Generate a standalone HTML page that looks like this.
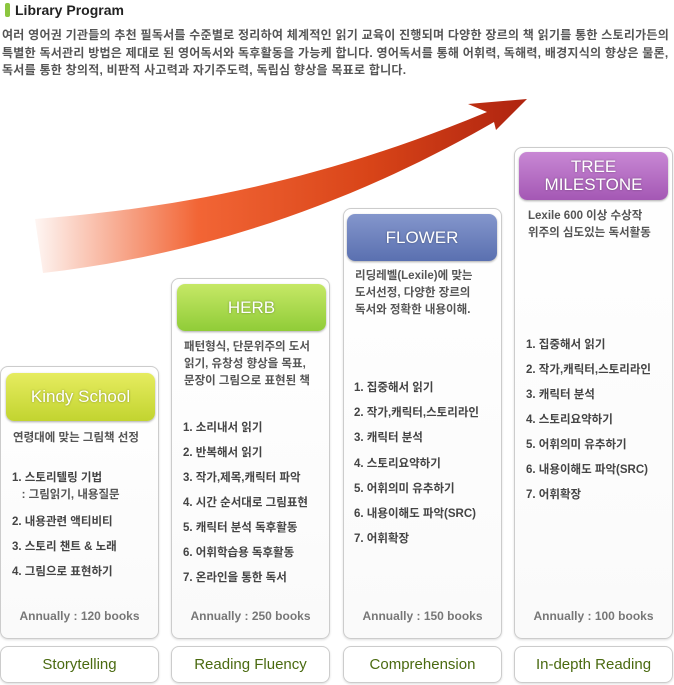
<!DOCTYPE html>
<html><head><meta charset="utf-8"><style>
body{margin:0;width:674px;height:685px;background:#fff;position:relative;overflow:hidden;font-family:"Liberation Sans","Noto Sans CJK KR",sans-serif;}
.abs{position:absolute}
.title{left:5px;top:2px;font-size:14px;font-weight:bold;color:#222;}
.title:before{content:"";display:inline-block;width:5px;height:14px;background:#8cc63f;border-radius:2px;margin-right:5px;vertical-align:-2px}
.intro{left:2px;top:27px;font-size:12px;line-height:17.5px;color:#555;font-weight:bold;white-space:nowrap;letter-spacing:0.25px}
.card{position:absolute;border:1px solid #ccc;border-radius:8px;background:linear-gradient(#fff,#fafafa);box-shadow:0 1px 2px #ddd;}
.btn{position:absolute;border-radius:8px;color:#fff;text-align:center;font-size:17px;box-shadow:0 1px 2px #aaa;text-shadow:0 0 2px rgba(0,0,0,.35)}
.t{position:absolute;font-size:11.5px;font-weight:bold;color:#444;white-space:nowrap}
.d{color:#555}
.ann{position:absolute;font-size:12px;font-weight:bold;color:#777;text-align:center;width:159px}
.lbl{position:absolute;top:646px;height:35px;width:157px;border:1px solid #ccc;border-radius:8px;text-align:center;line-height:35px;font-size:15px;color:#4a6a10;box-shadow:0 1px 2px #ddd}
</style></head><body>
<div class="abs title">Library Program</div>
<div class="abs intro">여러 영어권 기관들의 추천 필독서를 수준별로 정리하여 체계적인 읽기 교육이 진행되며 다양한 장르의 책 읽기를 통한 스토리가든의<br>특별한 독서관리 방법은 제대로 된 영어독서와 독후활동을 가능케 합니다. 영어독서를 통해 어휘력, 독해력, 배경지식의 향상은 물론,<br>독서를 통한 창의적, 비판적 사고력과 자기주도력, 독립심 향상을 목표로 합니다.</div>
<svg class="abs" style="left:0;top:0" width="674" height="300">
<defs><linearGradient id="g" x1="25" y1="0" x2="520" y2="0" gradientUnits="userSpaceOnUse">
<stop offset="0" stop-color="#f06030" stop-opacity="0"/><stop offset="0.35" stop-color="#f26535"/><stop offset="0.7" stop-color="#d84418"/><stop offset="1" stop-color="#b02510"/></linearGradient></defs>
<path d="M35,219 C150,210 300,190 487,112 L468,104 L527,99 L496,130 L494,122 C350,205 200,255 43,273 Z" fill="url(#g)"/>
</svg>

<div class="card" style="left:0;top:366px;width:157px;height:271px"></div>
<div class="card" style="left:171px;top:278px;width:157px;height:359px"></div>
<div class="card" style="left:343px;top:208px;width:157px;height:429px"></div>
<div class="card" style="left:514px;top:147px;width:157px;height:490px"></div>

<div class="btn" style="left:6px;top:373px;width:149px;height:48px;line-height:48px;background:linear-gradient(#e6ec60,#c2d430);">Kindy School</div>
<div class="btn" style="left:177px;top:284px;width:149px;height:47px;line-height:47px;background:linear-gradient(#c6e866,#90cc38);">HERB</div>
<div class="btn" style="left:347px;top:214px;width:150px;height:47px;line-height:47px;background:linear-gradient(#8496cc,#5a70b0);">FLOWER</div>
<div class="btn" style="left:519px;top:152px;width:149px;height:48px;line-height:18px;padding-top:6px;box-sizing:border-box;background:linear-gradient(#c888d4,#a458b4);">TREE<br>MILESTONE</div>

<div class="t d" style="left:13px;top:429px">연령대에 맞는 그림책 선정</div>
<div class="t" style="left:12px;top:470px;line-height:17px">1. 스토리텔링 기법<br><span class="d">&nbsp;&nbsp;&nbsp;: 그림읽기, 내용질문</span></div>
<div class="t" style="left:12px;top:513px">2. 내용관련 액티비티</div>
<div class="t" style="left:12px;top:538px">3. 스토리 챈트 &amp; 노래</div>
<div class="t" style="left:12px;top:563px">4. 그림으로 표현하기</div>
<div class="ann" style="left:0;top:609px">Annually : 120 books</div>

<div class="t d" style="left:184px;top:339px;line-height:17px">패턴형식, 단문위주의 도서<br>읽기, 유창성 향상을 목표,<br>문장이 그림으로 표현된 책</div>
<div class="t" style="left:183px;top:416px;line-height:25px">1. 소리내서 읽기<br>2. 반복해서 읽기<br>3. 작가,제목,캐릭터 파악<br>4. 시간 순서대로 그림표현<br>5. 캐릭터 분석 독후활동<br>6. 어휘학습용 독후활동<br>7. 온라인을 통한 독서</div>
<div class="ann" style="left:171px;top:609px">Annually : 250 books</div>

<div class="t d" style="left:355px;top:268px;line-height:17px">리딩레벨(Lexile)에 맞는<br>도서선정, 다양한 장르의<br>독서와 정확한 내용이해.</div>
<div class="t" style="left:354px;top:376px;line-height:25.2px">1. 집중해서 읽기<br>2. 작가,캐릭터,스토리라인<br>3. 캐릭터 분석<br>4. 스토리요약하기<br>5. 어휘의미 유추하기<br>6. 내용이해도 파악(SRC)<br>7. 어휘확장</div>
<div class="ann" style="left:343px;top:609px">Annually : 150 books</div>

<div class="t d" style="left:528px;top:208px;line-height:17px">Lexile 600 이상 수상작<br>위주의 심도있는 독서활동</div>
<div class="t" style="left:526px;top:333px;line-height:25px">1. 집중해서 읽기<br>2. 작가,캐릭터,스토리라인<br>3. 캐릭터 분석<br>4. 스토리요약하기<br>5. 어휘의미 유추하기<br>6. 내용이해도 파악(SRC)<br>7. 어휘확장</div>
<div class="ann" style="left:514px;top:609px">Annually : 100 books</div>

<div class="lbl" style="left:0">Storytelling</div>
<div class="lbl" style="left:171px">Reading Fluency</div>
<div class="lbl" style="left:343px">Comprehension</div>
<div class="lbl" style="left:514px">In-depth Reading</div>
</body></html>
